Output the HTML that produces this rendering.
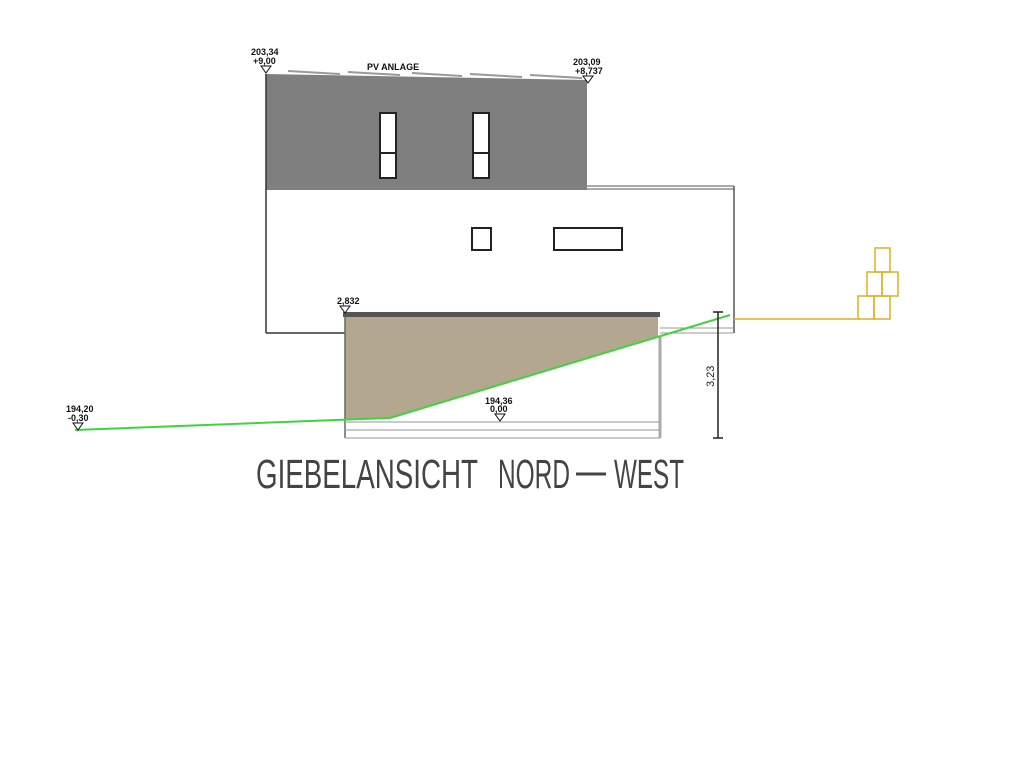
<!DOCTYPE html>
<html><head><meta charset="utf-8"><style>html,body{margin:0;padding:0;background:#fff;width:1024px;height:768px;overflow:hidden}</style></head>
<body>
<svg width="1024" height="768" viewBox="0 0 1024 768" xmlns="http://www.w3.org/2000/svg" font-family="Liberation Sans, sans-serif">
<rect width="1024" height="768" fill="#fff"/>
<g stroke="#999" stroke-width="2" fill="none">
<line x1="288" y1="71" x2="340" y2="74"/>
<line x1="348" y1="72" x2="400" y2="75"/>
<line x1="412" y1="73" x2="462" y2="76"/>
<line x1="470" y1="74" x2="522" y2="77"/>
<line x1="530" y1="75" x2="582" y2="78"/>
</g>
<polygon points="266,74 587,80 587,190 266,190" fill="#7f7f7f"/>
<line x1="266" y1="74" x2="266" y2="333" stroke="#333" stroke-width="1.5"/>
<g fill="#fff" stroke="#222" stroke-width="2">
<rect x="380" y="113" width="16" height="65"/>
<rect x="473" y="113" width="16" height="65"/>
</g>
<line x1="380" y1="153" x2="396" y2="153" stroke="#222" stroke-width="2"/>
<line x1="473" y1="153" x2="489" y2="153" stroke="#222" stroke-width="2"/>
<line x1="587" y1="186" x2="734" y2="186" stroke="#555" stroke-width="1"/>
<line x1="587" y1="189" x2="734" y2="189" stroke="#555" stroke-width="1"/>
<line x1="734" y1="186" x2="734" y2="333" stroke="#555" stroke-width="1.5"/>
<line x1="266" y1="333" x2="345" y2="333" stroke="#333" stroke-width="1.5"/>
<line x1="660" y1="328" x2="734" y2="328" stroke="#999" stroke-width="1"/>
<line x1="660" y1="333" x2="734" y2="333" stroke="#999" stroke-width="1"/>
<g fill="#fff" stroke="#222" stroke-width="2">
<rect x="472" y="228" width="19" height="22"/>
<rect x="554" y="228" width="68" height="22"/>
</g>
<polygon points="345,317 658,317 658,336 390,418 345,420" fill="#b3a78f"/>
<rect x="343" y="312" width="317" height="5" fill="#555"/>
<line x1="345" y1="317" x2="345" y2="438" stroke="#666" stroke-width="1.5"/>
<line x1="660" y1="336" x2="660" y2="438" stroke="#aaa" stroke-width="3"/>
<g stroke="#aaa" stroke-width="1.2">
<line x1="345" y1="422" x2="660" y2="422"/>
<line x1="345" y1="430" x2="660" y2="430"/>
<line x1="345" y1="438" x2="660" y2="438"/>
</g>
<polyline points="75,430 390,418 730,315" fill="none" stroke="#3ed43e" stroke-width="2"/>
<line x1="734" y1="319" x2="860" y2="319" stroke="#e0b020" stroke-width="1.5"/>
<g fill="none" stroke="#e0b020" stroke-width="1.5">
<rect x="875" y="248" width="15" height="24"/>
<rect x="867" y="272" width="15" height="24"/>
<rect x="882" y="272" width="16" height="24"/>
<rect x="858" y="296" width="16" height="23"/>
<rect x="874" y="296" width="16" height="23"/>
</g>
<line x1="718" y1="312" x2="718" y2="438" stroke="#222" stroke-width="1.5"/>
<line x1="713" y1="312" x2="723" y2="312" stroke="#222" stroke-width="1.5"/>
<line x1="713" y1="438" x2="723" y2="438" stroke="#222" stroke-width="1.5"/>
<text x="0" y="0" font-size="11" fill="#222" transform="translate(714,387) rotate(-90)">3,23</text>
<g font-size="9" fill="#111" font-weight="bold">
<text x="251" y="55">203,34</text><text x="253" y="64">+9,00</text>
<text x="573" y="65">203,09</text><text x="575" y="74">+8,737</text>
<text x="367" y="70">PV ANLAGE</text>
<text x="337" y="304">2,832</text>
<text x="485" y="404">194,36</text><text x="490" y="412">0,00</text>
<text x="66" y="412">194,20</text><text x="68" y="421">-0,30</text>
</g>
<g fill="none" stroke="#111" stroke-width="1">
<path d="M261,66 L271,66 L266,73 Z"/>
<path d="M583,76 L593,76 L588,83 Z"/>
<path d="M340,306 L350,306 L345,313 Z"/>
<path d="M495,414 L505,414 L500,421 Z"/>
<path d="M73,423 L83,423 L78,430 Z"/>
</g>
<g font-size="41" fill="#444">
<text x="256" y="488" textLength="222" lengthAdjust="spacingAndGlyphs">GIEBELANSICHT</text>
<text x="498" y="488" textLength="72" lengthAdjust="spacingAndGlyphs">NORD</text>
<text x="614" y="488" textLength="70" lengthAdjust="spacingAndGlyphs">WEST</text>
</g>
<line x1="576" y1="474" x2="606" y2="474" stroke="#444" stroke-width="3"/>
</svg>
</body></html>
